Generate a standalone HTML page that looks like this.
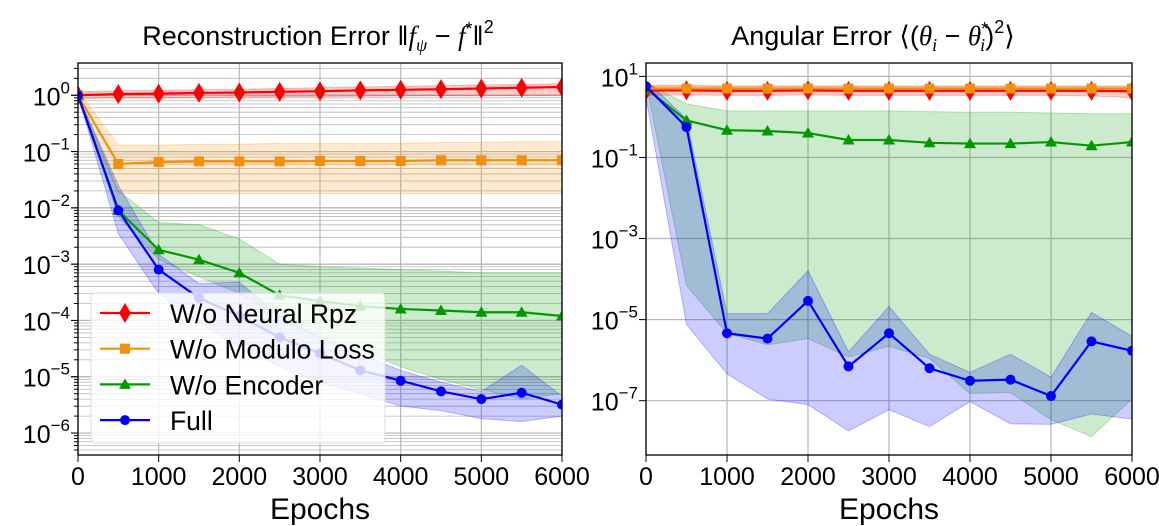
<!DOCTYPE html>
<html><head><meta charset="utf-8"><style>
html,body{margin:0;padding:0;background:#fff;}
svg{display:block;font-family:"Liberation Sans",sans-serif;}
</style></head><body>
<svg id="chart" width="1159" height="526" xmlns="http://www.w3.org/2000/svg">
<text x="318" y="45" font-size="27" text-anchor="middle">Reconstruction Error ‖<tspan font-family="Liberation Serif" font-style="italic">f</tspan><tspan font-size="18" dy="6" font-family="Liberation Serif" font-style="italic">ψ</tspan><tspan dy="-6"> − </tspan><tspan font-family="Liberation Serif" font-style="italic">f</tspan><tspan font-size="18" dy="-10">*</tspan><tspan dy="10">‖</tspan><tspan font-size="18" dy="-12">2</tspan></text>
<text x="873" y="45" font-size="27" text-anchor="middle">Angular Error ⟨(<tspan font-family="Liberation Serif" font-style="italic">θ</tspan><tspan font-size="18" dy="6" font-family="Liberation Serif" font-style="italic">i</tspan><tspan dy="-6"> − </tspan><tspan font-family="Liberation Serif" font-style="italic">θ</tspan><tspan font-size="18" dy="-10">*</tspan><tspan font-size="18" dx="-8" dy="16" font-family="Liberation Serif" font-style="italic">i</tspan><tspan dy="-6">)</tspan><tspan font-size="18" dy="-12">2</tspan><tspan dy="12">⟩</tspan></text>
</svg>
<script>
const epochs=[0,500,1000,1500,2000,2500,3000,3500,4000,4500,5000,5500,6000];
// Left: reconstruction error
const L_red=[1.0,1.05,1.07,1.1,1.12,1.15,1.18,1.22,1.25,1.28,1.32,1.36,1.4];
const L_redHi=[1.15,1.2,1.22,1.25,1.28,1.32,1.36,1.4,1.44,1.48,1.52,1.56,1.6];
const L_redLo=[0.88,0.9,0.9,0.92,0.93,0.94,0.95,0.96,0.97,0.98,0.98,0.99,1.0];
const L_org=[1.0,0.06,0.065,0.067,0.067,0.067,0.068,0.068,0.068,0.07,0.07,0.07,0.07];
const L_orgHi=[1.2,0.13,0.13,0.135,0.135,0.14,0.14,0.14,0.14,0.145,0.145,0.15,0.15];
const L_orgLo=[0.8,0.018,0.018,0.018,0.018,0.018,0.018,0.018,0.018,0.018,0.018,0.018,0.018];
const L_grn=[1.0,0.009,0.0018,0.0012,0.0007,0.00028,0.00022,0.00018,0.00016,0.00015,0.00014,0.00014,0.00012];
const L_grnHi=[1.0,0.02,0.0055,0.005,0.0028,0.001,0.0009,0.00085,0.0008,0.00075,0.0007,0.0007,0.0007];
const L_grnLo=[1.0,0.007,0.0012,0.0006,0.0003,0.00011,0.00005,0.00003,0.000015,0.000009,0.000006,0.000004,0.000005];
const L_blu=[1.0,0.009,0.0008,0.00025,0.00012,0.00005,0.000026,0.000013,0.0000085,0.0000055,0.000004,0.0000052,0.0000032];
const L_bluHi=[1.0,0.025,0.0015,0.00045,0.00048,0.00012,0.00005,0.000025,0.000013,0.000008,0.0000055,0.000016,0.0000045];
const L_bluLo=[1.0,0.0035,0.0003,0.00009,0.000035,0.000015,0.000008,0.000005,0.000003,0.0000025,0.0000018,0.0000016,0.000002];
// Right: angular error
const R_red=[4.5,4.5,4.4,4.4,4.5,4.4,4.4,4.4,4.4,4.4,4.4,4.4,4.3];
const R_redHi=[6,6,5.8,5.8,5.8,5.8,5.8,5.8,5.8,5.8,5.8,5.8,5.8];
const R_redLo=[3.4,3.5,3.4,3.4,3.5,3.4,3.4,3.4,3.4,3.4,3.4,3.3,3.0];
const R_org=[5,5,5,5,5,5,5,5,5,5,5,5,5];
const R_orgHi=[5.6,5.6,5.6,5.6,5.6,5.6,5.6,5.6,5.6,5.6,5.6,5.6,5.6];
const R_orgLo=[4.5,4.5,4.5,4.5,4.5,4.5,4.5,4.5,4.5,4.5,4.5,4.5,4.5];
const R_grn=[5,0.82,0.47,0.45,0.40,0.27,0.27,0.23,0.22,0.22,0.24,0.195,0.24];
const R_grnHi=[7,2.1,1.4,1.4,1.4,1.4,1.4,1.35,1.3,1.3,1.25,1.2,1.2];
const R_grnLo=[7,7e-5,4.6e-6,2.4e-6,3.4e-6,1.2e-6,2.2e-6,1.1e-6,1.5e-7,1.6e-7,3.4e-8,1.3e-8,1.1e-7];
const R_blu=[5.7,0.56,4.6e-6,3.4e-6,2.9e-5,7e-7,4.6e-6,6.3e-7,3.1e-7,3.3e-7,1.3e-7,2.9e-6,1.7e-6];
const R_bluHi=[8,0.9,1.4e-5,1.4e-5,1.6e-4,1.6e-6,2.1e-5,1.4e-6,5e-7,1.4e-6,3.8e-7,1.5e-5,3.9e-6];
const R_bluLo=[3,7.6e-6,4.6e-7,1.1e-7,8e-8,1.8e-8,6e-8,2.3e-8,9.5e-8,2.7e-8,2.6e-8,4.7e-8,3.5e-8];
const xTicks=[0,1000,2000,3000,4000,5000,6000];
const L_yTicks=[0,-1,-2,-3,-4,-5,-6];
const R_yTicks=[1,-1,-3,-5,-7];
const legendLabels=["W/o Neural Rpz","W/o Modulo Loss","W/o Encoder","Full"];

const NS="http://www.w3.org/2000/svg";
const svg=document.getElementById('chart');
function mk(tag,attrs,parent){const e=document.createElementNS(NS,tag);for(const k in attrs)e.setAttribute(k,attrs[k]);(parent||svg).appendChild(e);return e;}
const COL={red:"#ff0000",org:"#f0900c",grn:"#009a00",blu:"#0000ff"};

function panel(cfg){
  const {x0,x1,y0,y1,lmin,lmax,name}=cfg;
  const sx=v=>x0+(v/6000)*(x1-x0);
  const sy=v=>y1-(Math.log10(v)-lmin)/(lmax-lmin)*(y1-y0);
  const g=mk('g',{});
  
  
  const cid=name+'-clip';
  const cp=mk('clipPath',{id:cid},g);mk('rect',{x:x0,y:y0,width:x1-x0,height:y1-y0},cp);
  const grid=mk('g',{},g);
  
  
  if(cfg.minor){
    for(let d=Math.floor(lmin);d<=Math.ceil(lmax);d++)for(let m=1;m<10;m++){
      const v=m*Math.pow(10,d);const y=sy(v);
      if(y<y0||y>y1)continue;
      mk('line',{x1:x0,x2:x1,y1:y,y2:y,stroke:'#b8b8b8','stroke-width':m==1?1.2:0.8},grid);
      mk('line',{x1:x0-(m==1?7:4),x2:x0,y1:y,y2:y,stroke:'#000','stroke-width':1},g);
    }
  }
  cfg.yTicks.forEach(t=>{
    const y=sy(Math.pow(10,t));
    mk('line',{x1:x0,x2:x1,y1:y,y2:y,stroke:'#b8b8b8','stroke-width':1.2},grid);
    mk('line',{x1:x0-7,x2:x0,y1:y,y2:y,stroke:'#000','stroke-width':1},g);
    const tx=mk('text',{x:x0-8,y:y+10,'font-size':25,'text-anchor':'end'},g);
    
    
    tx.innerHTML='10<tspan font-size="17" dy="-12">'+(t<0?'−'+(-t):t)+'</tspan>';
  });
  xTicks.forEach(t=>{
    const x=sx(t);
    mk('line',{x1:x,x2:x,y1:y0,y2:y1,stroke:'#b8b8b8','stroke-width':1.2},grid);
    mk('line',{x1:x,x2:x,y1:y1,y2:y1+7,stroke:'#000','stroke-width':1},g);
    const tx=mk('text',{x:x,y:y1+30,'font-size':25,'text-anchor':'middle'},g);
    
    
    tx.textContent=t;
  });
  const data=g.appendChild(document.createElementNS(NS,'g'));data.setAttribute('clip-path','url(#'+cid+')');
  cfg.series.forEach(s=>{
    let d='';epochs.forEach((e,i)=>{d+=(i?'L':'M')+sx(e)+','+sy(s.hi[i]);});
    for(let i=epochs.length-1;i>=0;i--)d+='L'+sx(epochs[i])+','+sy(s.lo[i]);
    const p=mk('path',{d:d+'Z',fill:COL[s.c],'fill-opacity':0.2,stroke:COL[s.c],'stroke-opacity':0.25},data);
    
    
  });
  cfg.series.forEach(s=>{
    const pts=epochs.map((e,i)=>sx(e)+','+sy(s.v[i])).join(' ');
    const l=mk('polyline',{points:pts,fill:'none',stroke:COL[s.c],'stroke-width':2.2},data);
    
    
    epochs.forEach((e,i)=>{
      const m=marker(s.m,sx(e),sy(s.v[i]),COL[s.c],data);
      
      
    });
  });
  mk('rect',{x:x0,y:y0,width:x1-x0,height:y1-y0,fill:'none',stroke:'#000','stroke-width':1.3},g);
  const xl=mk('text',{x:(x0+x1)/2,y:y1+64,'font-size':30,'text-anchor':'middle'},g);
  
  
  xl.textContent='Epochs';
}
function marker(type,x,y,c,p){
  if(type=='d')return mk('path',{d:`M${x},${y-10}L${x+6},${y}L${x},${y+10}L${x-6},${y}Z`,fill:c},p);
  if(type=='s')return mk('rect',{x:x-5,y:y-5,width:10,height:10,fill:c},p);
  if(type=='t')return mk('path',{d:`M${x},${y-6}L${x+6},${y+4.5}L${x-6},${y+4.5}Z`,fill:c},p);
  return mk('circle',{cx:x,cy:y,r:5,fill:c},p);
}
panel({name:'left',x0:78,x1:562,y0:63,y1:455,lmin:-6.39,lmax:0.573,minor:true,yTicks:L_yTicks,series:[
  {key:'neural-rpz',c:'red',m:'d',v:L_red,hi:L_redHi,lo:L_redLo},
  {key:'modulo-loss',c:'org',m:'s',v:L_org,hi:L_orgHi,lo:L_orgLo},
  {key:'encoder',c:'grn',m:'t',v:L_grn,hi:L_grnHi,lo:L_grnLo},
  {key:'full',c:'blu',m:'o',v:L_blu,hi:L_bluHi,lo:L_bluLo}]});
panel({name:'right',x0:646,x1:1132,y0:63,y1:455,lmin:-8.34,lmax:1.33,minor:false,yTicks:R_yTicks,series:[
  {key:'neural-rpz',c:'red',m:'d',v:R_red,hi:R_redHi,lo:R_redLo},
  {key:'modulo-loss',c:'org',m:'s',v:R_org,hi:R_orgHi,lo:R_orgLo},
  {key:'encoder',c:'grn',m:'t',v:R_grn,hi:R_grnHi,lo:R_grnLo},
  {key:'full',c:'blu',m:'o',v:R_blu,hi:R_bluHi,lo:R_bluLo}]});
const lg=mk('g',{});


mk('rect',{x:91,y:293,width:294,height:150,rx:4,fill:'#fff','fill-opacity':0.8,stroke:'#ddd'},lg);
const lc=['red','org','grn','blu'],lm=['d','s','t','o'];
legendLabels.forEach((t,i)=>{
  const y=313+i*35.7;
  const e=mk('g',{},lg);
  
  
  mk('line',{x1:100,x2:150,y1:y,y2:y,stroke:COL[lc[i]],'stroke-width':2.2},e);
  marker(lm[i],125,y,COL[lc[i]],e);
  const tx=mk('text',{x:170,y:y+10,'font-size':26.5},e);
  tx.textContent=t;
});
</script>
</body></html>
